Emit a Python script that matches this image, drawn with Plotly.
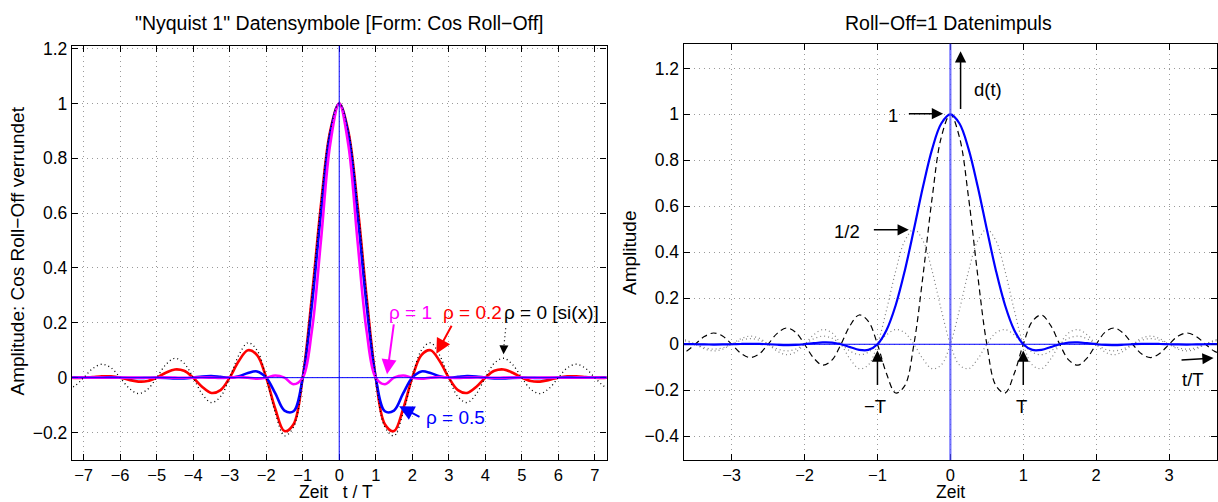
import plotly.graph_objects as go

# ---------------- data: left panel (t/T sampled every 0.25) ----------------
t_left = [-7.5, -7.25, -7.0, -6.75, -6.5, -6.25, -6.0, -5.75, -5.5, -5.25, -5.0,
          -4.75, -4.5, -4.25, -4.0, -3.75, -3.5, -3.25, -3.0, -2.75, -2.5, -2.25,
          -2.0, -1.75, -1.5, -1.25, -1.0, -0.75, -0.5, -0.25, 0.0, 0.25, 0.5, 0.75,
          1.0, 1.25, 1.5, 1.75, 2.0, 2.25, 2.5, 2.75, 3.0, 3.25, 3.5, 3.75, 4.0,
          4.25, 4.5, 4.75, 5.0, 5.25, 5.5, 5.75, 6.0, 6.25, 6.5, 6.75, 7.0, 7.25, 7.5]

rho_0 = [-0.0424, -0.0310, 0, 0.0333, 0.0490, 0.0360, 0, -0.0391, -0.0579, -0.0429, 0,
         0.0474, 0.0707, 0.0530, 0, -0.0600, -0.0909, -0.0693, 0, 0.0818, 0.1273, 0.1000,
         0, -0.1286, -0.2122, -0.1801, 0, 0.3001, 0.6366, 0.9003, 1, 0.9003, 0.6366, 0.3001,
         0, -0.1801, -0.2122, -0.1286, 0, 0.1000, 0.1273, 0.0818, 0, -0.0693, -0.0909, -0.0600,
         0, 0.0530, 0.0707, 0.0474, 0, -0.0429, -0.0579, -0.0391, 0, 0.0360, 0.0490, 0.0333,
         0, -0.0310, -0.0424]

rho_02 = [0, -0.0007, 0, 0.0024, 0.0050, 0.0048, 0, -0.0081, -0.0143, -0.0124, 0,
          0.0179, 0.0300, 0.0250, 0, -0.0339, -0.0557, -0.0456, 0, 0.0609, 0.1000, 0.0823,
          0, -0.1145, -0.1949, -0.1698, 0, 0.2938, 0.6307, 0.8982, 1, 0.8982, 0.6307, 0.2938,
          0, -0.1698, -0.1949, -0.1145, 0, 0.0823, 0.1000, 0.0609, 0, -0.0456, -0.0557, -0.0339,
          0, 0.0250, 0.0300, 0.0179, 0, -0.0124, -0.0143, -0.0081, 0, 0.0048, 0.0050, 0.0024,
          0, -0.0007, 0]

rho_05 = [0.0005, 0.0002, 0, 0.0003, 0.0008, 0.0009, 0, -0.0011, -0.0014, -0.0006, 0,
          -0.0008, -0.0026, -0.0029, 0, 0.0042, 0.0057, 0.0028, 0, 0.0048, 0.0171, 0.0227,
          0, -0.0576, -0.1200, -0.1225, 0, 0.2625, 0.6002, 0.8872, 1, 0.8872, 0.6002, 0.2625,
          0, -0.1225, -0.1200, -0.0576, 0, 0.0227, 0.0171, 0.0048, 0, 0.0028, 0.0057, 0.0042,
          0, -0.0029, -0.0026, -0.0008, 0, -0.0006, -0.0014, -0.0011, 0, 0.0009, 0.0008, 0.0003,
          0, 0.0002, 0.0005]

rho_1 = [0, -0.0001, 0, 0.0001, 0, -0.0002, 0, 0.0002, 0, -0.0003, 0,
         0.0004, 0, -0.0005, 0, 0.0008, 0, -0.0012, 0, 0.0020, 0, -0.0037,
         0, 0.0081, 0, -0.0243, 0, 0.1698, 0.5, 0.8488, 1, 0.8488, 0.5, 0.1698,
         0, -0.0243, 0, 0.0081, 0, -0.0037, 0, 0.0020, 0, -0.0012, 0, 0.0008,
         0, -0.0005, 0, 0.0004, 0, -0.0003, 0, 0.0002, 0, -0.0002, 0, 0.0001,
         0, -0.0001, 0]

# ---------------- data: right panel (t/T sampled every 0.125) ----------------
t_right = [-3.75, -3.625, -3.5, -3.375, -3.25, -3.125, -3.0, -2.875, -2.75, -2.625, -2.5,
           -2.375, -2.25, -2.125, -2.0, -1.875, -1.75, -1.625, -1.5, -1.375, -1.25, -1.125,
           -1.0, -0.875, -0.75, -0.625, -0.5, -0.375, -0.25, -0.125, 0.0, 0.125, 0.25, 0.375,
           0.5, 0.625, 0.75, 0.875, 1.0, 1.125, 1.25, 1.375, 1.5, 1.625, 1.75, 1.875, 2.0,
           2.125, 2.25, 2.375, 2.5, 2.625, 2.75, 2.875, 3.0, 3.125, 3.25, 3.375, 3.5, 3.625, 3.75]

d_pulse = [0.0008, 0.0006, 0, -0.0007, -0.0012, -0.0009, 0, 0.0012, 0.0020, 0.0016, 0,
           -0.0022, -0.0037, -0.0031, 0, 0.0046, 0.0081, 0.0072, 0, -0.0125, -0.0243, -0.0246,
           0, 0.0624, 0.1698, 0.3202, 0.5, 0.6859, 0.8488, 0.9603, 1, 0.9603, 0.8488, 0.6859,
           0.5, 0.3202, 0.1698, 0.0624, 0, -0.0246, -0.0243, -0.0125, 0, 0.0072, 0.0081, 0.0046,
           0, -0.0031, -0.0037, -0.0022, 0, 0.0016, 0.0020, 0.0012, 0, -0.0009, -0.0012, -0.0007,
           0, 0.0006, 0.0008]

si_main = [-0.0424, -0.0310, 0, 0.0333, 0.0490, 0.0360, 0, -0.0391, -0.0579, -0.0429, 0,
           0.0474, 0.0707, 0.0530, 0, -0.0600, -0.0909, -0.0693, 0, 0.0818, 0.1273, 0.1000,
           0, -0.1286, -0.2122, -0.1801, 0, 0.3001, 0.6366, 0.9003, 1, 0.9003, 0.6366, 0.3001,
           0, -0.1801, -0.2122, -0.1286, 0, 0.1000, 0.1273, 0.0818, 0, -0.0693, -0.0909, -0.0600,
           0, 0.0530, 0.0707, 0.0474, 0, -0.0429, -0.0579, -0.0391, 0, 0.0360, 0.0490, 0.0333,
           0, -0.0310, -0.0424]

si_left_half = [0.0245, 0.0180, 0, -0.0196, -0.0290, -0.0215, 0, 0.0237, 0.0354, 0.0265, 0,
                -0.0300, -0.0455, -0.0347, 0, 0.0409, 0.0637, 0.0500, 0, -0.0643, -0.1061, -0.0901,
                0, 0.1501, 0.3183, 0.4502, 0.5, 0.4502, 0.3183, 0.1501, 0, -0.0901, -0.1061, -0.0643,
                0, 0.0500, 0.0637, 0.0409, 0, -0.0347, -0.0455, -0.0300, 0, 0.0265, 0.0354, 0.0237,
                0, -0.0215, -0.0290, -0.0196, 0, 0.0180, 0.0245, 0.0167, 0, -0.0155, -0.0212, -0.0145,
                0, 0.0137, 0.0187]

si_right_half = [0.0187, 0.0137, 0, -0.0145, -0.0212, -0.0155, 0, 0.0167, 0.0245, 0.0180, 0,
                 -0.0196, -0.0290, -0.0215, 0, 0.0237, 0.0354, 0.0265, 0, -0.0300, -0.0455, -0.0347,
                 0, 0.0409, 0.0637, 0.0500, 0, -0.0643, -0.1061, -0.0901, 0, 0.1501, 0.3183, 0.4502,
                 0.5, 0.4502, 0.3183, 0.1501, 0, -0.0901, -0.1061, -0.0643, 0, 0.0500, 0.0637, 0.0409,
                 0, -0.0347, -0.0455, -0.0300, 0, 0.0265, 0.0354, 0.0237, 0, -0.0215, -0.0290, -0.0196,
                 0, 0.0180, 0.0245]

left_xticks = [-7, -6, -5, -4, -3, -2, -1, 0, 1, 2, 3, 4, 5, 6, 7]
left_yticks = [-0.2, 0, 0.2, 0.4, 0.6, 0.8, 1, 1.2]
right_xticks = [-3, -2, -1, 0, 1, 2, 3]
right_yticks = [-0.4, -0.2, 0, 0.2, 0.4, 0.6, 0.8, 1, 1.2]

FONT = "Liberation Sans, Arial, Helvetica, sans-serif"
W, H = 1218, 502
FS = 17.5
FSX = 16.5

fig = go.Figure()


def curve(x, y, xa, ya, color, width, dash=None):
    fig.add_trace(go.Scatter(
        x=x, y=y, xaxis=xa, yaxis=ya, mode="lines", showlegend=False, hoverinfo="skip",
        line=dict(color=color, width=width, dash=dash, shape="spline", smoothing=1.0)))


# left panel
curve(t_left, rho_02, "x", "y", "#ff0000", 2.6)
curve(t_left, rho_05, "x", "y", "#0000ff", 2.6)
curve(t_left, rho_1, "x", "y", "#ff00ff", 2.6)
curve(t_left, rho_0, "x", "y", "#000000", 1.3, "1px,3px")

# right panel
curve(t_right, si_left_half, "x2", "y2", "#808080", 1.2, "1px,3px")
curve(t_right, si_right_half, "x2", "y2", "#808080", 1.2, "1px,3px")
curve(t_right, si_main, "x2", "y2", "#000000", 1.2, "6px,4px")
curve(t_right, d_pulse, "x2", "y2", "#0000ff", 2.2)

axis_common = dict(
    showline=True, linecolor="black", linewidth=1.4, mirror="ticks",
    ticks="inside", ticklen=6, tickwidth=1, tickcolor="black",
    showgrid=True, gridcolor="#9a9a9a", griddash="1px,4px", gridwidth=1,
    zeroline=False, tickfont=dict(size=FS, color="black", family=FONT),
    fixedrange=True,
)
xfont = dict(size=FSX, color="black", family=FONT)

fig.update_layout(
    width=W, height=H, margin=dict(l=0, r=0, t=0, b=0),
    paper_bgcolor="white", plot_bgcolor="white",
    font=dict(family=FONT, color="black", size=FS),
    xaxis=dict(axis_common, domain=[72 / W, 607 / W], range=[-7.32, 7.32],
               tickmode="array", tickvals=left_xticks, anchor="y", tickfont=xfont),
    yaxis=dict(axis_common, domain=[1 - 459.3 / H, 1 - 39.5 / H], range=[-0.3, 1.21],
               tickmode="array", tickvals=left_yticks, anchor="x"),
    xaxis2=dict(axis_common, domain=[684.3 / W, 1.0], range=[-3.657, 3.657],
                tickmode="array", tickvals=right_xticks, anchor="y2", tickfont=xfont),
    yaxis2=dict(axis_common, domain=[1 - 459.3 / H, 1 - 37.3 / H], range=[-0.503, 1.307],
                tickmode="array", tickvals=right_yticks, anchor="x2"),
)

# axis lines through the origin
fig.add_shape(type="line", xref="x domain", yref="y", x0=0, x1=1, y0=0, y1=0,
              line=dict(color="#0000ff", width=1), layer="above")
fig.add_shape(type="line", xref="x", yref="y domain", x0=0, x1=0, y0=0, y1=1,
              line=dict(color="#0000ff", width=1), layer="above")
fig.add_shape(type="line", xref="x2 domain", yref="y2", x0=0, x1=1, y0=0, y1=0,
              line=dict(color="#0000ff", width=1), layer="above")
fig.add_shape(type="line", xref="x2", yref="y2 domain", x0=0, x1=0, y0=0, y1=1,
              line=dict(color="rgba(70,70,255,0.75)", width=2.2), layer="above")


def text(x, y, s, xref="paper", yref="paper", color="black", size=FS, angle=0):
    fig.add_annotation(x=x, y=y, xref=xref, yref=yref, text=s, showarrow=False,
                       font=dict(color=color, size=size, family=FONT),
                       xanchor="center", yanchor="middle", textangle=angle)


def arrow(x, y, ax, ay, xref, yref, color="black", width=1.5):
    fig.add_annotation(x=x, y=y, ax=ax, ay=ay, xref=xref, yref=yref, axref=xref, ayref=yref,
                       text="", showarrow=True, arrowhead=2, arrowsize=1.5,
                       arrowwidth=width, arrowcolor=color, standoff=0, startstandoff=0)


# titles and axis labels
text(340 / W, 1 - 16.7 / H, "\"Nyquist 1\" Datensymbole [Form: Cos Roll\u2212Off]", size=19.5)
text(949 / W, 1 - 16.7 / H, "Roll\u2212Off=1 Datenimpuls", size=19.5)
fig.add_annotation(x=336 / W, y=0, xref="paper", yref="paper", text="Zeit\u00a0\u00a0 t / T",
                   showarrow=False, xanchor="center", yanchor="bottom", yshift=-2,
                   font=dict(size=17.5, family=FONT, color="black"))
fig.add_annotation(x=951 / W, y=0, xref="paper", yref="paper", text="Zeit",
                   showarrow=False, xanchor="center", yanchor="bottom", yshift=-2,
                   font=dict(size=17.5, family=FONT, color="black"))
text(18 / W, 1 - 247 / H, "Amplitude: Cos Roll\u2212Off verrundet", angle=-90, size=19)
text(630 / W, 1 - 249 / H, "Amplitude", angle=-90, size=19)

# left panel labels
text(1.96, 0.237, "\u03c1 = 1", "x", "y", "#ff00ff", 19)
text(3.64, 0.237, "\u03c1 = 0.2", "x", "y", "#ff0000", 19)
text(5.82, 0.237, "\u03c1 = 0 [si(x)]", "x", "y", "black", 19)
text(3.19, -0.146, "\u03c1 = 0.5", "x", "y", "#0000ff", 19)
arrow(1.31, 0.012, 1.5, 0.2, "x", "y", "#ff00ff", 2)
arrow(2.66, 0.087, 3.10, 0.195, "x", "y", "#ff0000", 2)
arrow(1.64, -0.104, 2.24, -0.146, "x", "y", "#0000ff", 2)
fig.add_shape(type="line", xref="x", yref="y", x0=4.56, y0=0.18, x1=4.51, y1=0.115,
              line=dict(color="black", width=1.2, dash="1px,3px"))
arrow(4.5, 0.085, 4.51, 0.115, "x", "y", "black", 1.2)

# right panel labels
text(0.52, 1.11, "d(t)", "x2", "y2", size=18.5)
arrow(0.14, 1.275, 0.14, 1.017, "x2", "y2")
text(-0.78, 0.996, "1", "x2", "y2", size=18.5)
arrow(-0.1, 1.003, -0.59, 1.003, "x2", "y2")
text(-1.42, 0.491, "1/2", "x2", "y2", size=18.5)
arrow(-0.57, 0.498, -1.07, 0.498, "x2", "y2")
text(-1.03, -0.27, "\u2212T", "x2", "y2", size=18.5)
arrow(-1.0, -0.027, -1.0, -0.184, "x2", "y2")
text(0.98, -0.27, "T", "x2", "y2", size=18.5)
arrow(1.0, -0.027, 1.0, -0.184, "x2", "y2")
text(3.33, -0.155, "t/T", "x2", "y2", size=18.5)
arrow(3.61, -0.06, 3.15, -0.069, "x2", "y2")

fig.write_html("out.html")
